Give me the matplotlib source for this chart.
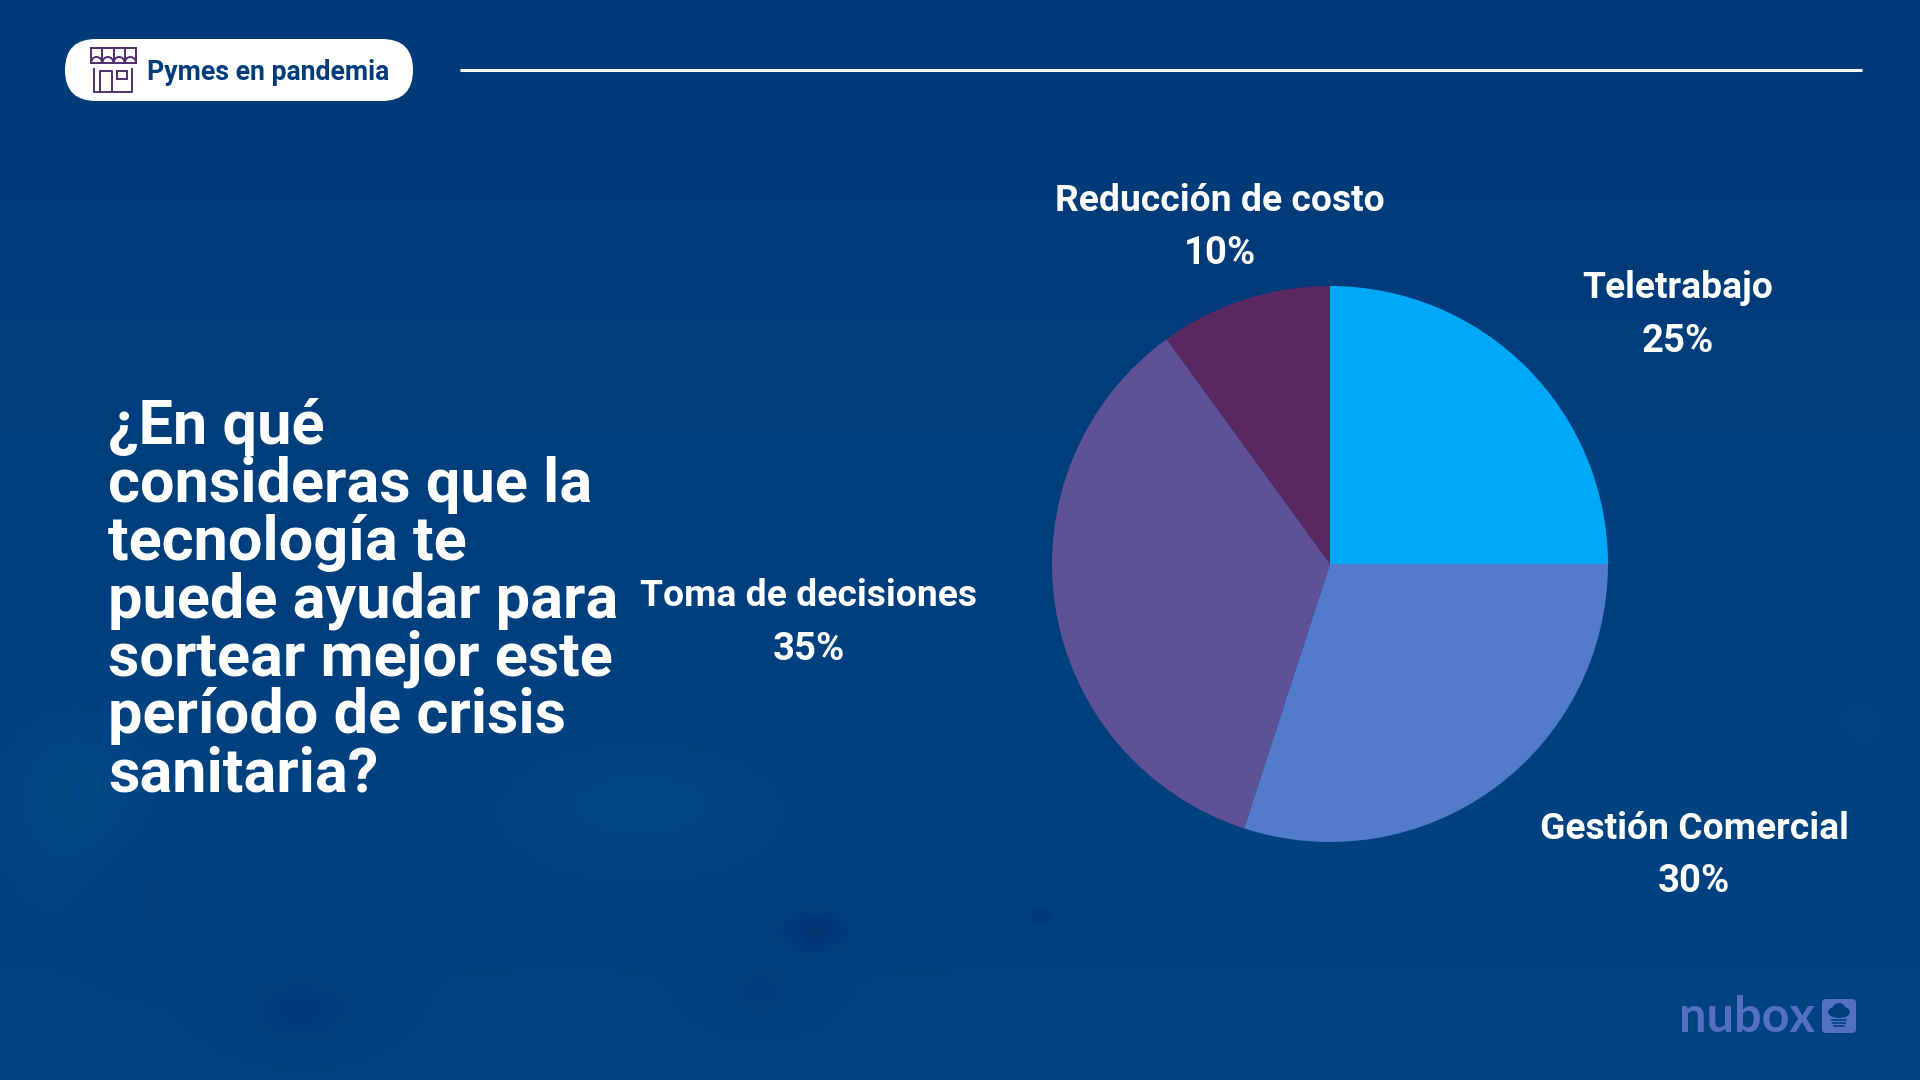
#!/usr/bin/env python3
import matplotlib
matplotlib.use("Agg")
import matplotlib.pyplot as plt
import numpy as np
from matplotlib.patches import Arc, Ellipse, FancyBboxPatch, Rectangle

categories = ["Teletrabajo", "Gestión Comercial", "Toma de decisiones", "Reducción de costo"]
values = [25, 30, 35, 10]
colors = ["#00A8F8", "#527BCB", "#5F5196", "#5A2860"]

title = "¿En qué\nconsideras que la\ntecnología te\npuede ayudar para\nsortear mejor este\nperíodo de crisis\nsanitaria?"
badge = "Pymes en pandemia"
brand = "nubox"

plt.rcParams["font.family"] = ["Roboto", "DejaVu Sans"]

W, H = 1920, 1080
fig = plt.figure(figsize=(W / 100, H / 100), dpi=100)

# overlay in pixel coords, y going down like the reference
bg = fig.add_axes([0, 0, 1, 1])
bg.set_xlim(0, W)
bg.set_ylim(H, 0)
bg.axis("off")

# background: vertical gradient plus soft blobs for the faded photo
yy, xx = np.mgrid[0:H:2, 0:W:2]
shade = yy / H
img = np.stack([0 * shade, 58 + 10 * shade, 120 + 11 * shade], axis=-1)
for cx, cy, sx, sy, amp in [
    (75, 790, 70, 80, 7),
    (640, 800, 130, 60, 5),
    (300, 1010, 70, 40, -9),
    (815, 930, 40, 22, -13),
    (760, 990, 50, 35, -7),
    (1040, 915, 15, 10, -10),
    (150, 900, 50, 60, -5),
    (1860, 720, 25, 25, 4),
]:
    blob = amp * np.exp(-((xx - cx) / sx) ** 2 - ((yy - cy) / sy) ** 2)
    img[..., 1] += blob
    img[..., 2] += blob
bg.imshow(np.clip(img, 0, 255) / 255, extent=[0, W, H, 0], aspect="auto", zorder=0)

# header badge and rule
bg.add_patch(FancyBboxPatch((65, 39), 348, 62, boxstyle="round,pad=0,rounding_size=31",
                            fc="white", ec="none", zorder=2))
bg.plot([460, 1862], [70, 70], color="white", lw=2.2, zorder=2, solid_capstyle="butt")

# shop icon
ic = "#4F2D6E"
bg.add_patch(Rectangle((91, 48), 45, 15, fc="none", ec=ic, lw=1.4, zorder=3))
for x in (102.2, 113.5, 124.7):
    bg.plot([x, x], [48, 63], color=ic, lw=1.4, zorder=3)
for x in (96.6, 107.9, 119.1, 130.4):
    bg.add_patch(Arc((x, 63), 11.2, 12, theta1=0, theta2=180, angle=180, ec=ic, lw=1.4, zorder=3))
bg.plot([94, 94, 132, 132], [69, 92, 92, 69], color=ic, lw=1.4, zorder=3)
bg.plot([100, 100, 112, 112], [92, 71, 71, 92], color=ic, lw=1.4, zorder=3)
bg.add_patch(Rectangle((117, 71), 10, 8, fc="none", ec=ic, lw=1.4, zorder=3))

bg.text(147, 73, badge, color="#003B7A", fontsize=19.2, fontweight="bold", va="center", ha="left", zorder=3)

# question, one text per line to hold the tight leading
for i, line in enumerate(title.split("\n")):
    bg.text(108, 444.5 + i * 57.75, line, color="white", fontsize=44.1, fontweight="bold",
            va="baseline", ha="left", zorder=3)

# slice labels
label_pos = {
    "Teletrabajo": (1678, 288.5),
    "Gestión Comercial": (1694, 829),
    "Toma de decisiones": (809, 596),
    "Reducción de costo": (1220, 201),
}
for cat, val in zip(categories, values):
    x, y = label_pos[cat]
    bg.text(x, y, cat, color="white", fontsize=26.8, fontweight="bold", ha="center", va="center", zorder=3)
    bg.text(x, y + 53, f"{val}%", color="white", fontsize=27.5, fontweight="bold", ha="center", va="center", zorder=3)

# logo
logo = "#5570C0"
bg.text(1679, 1032, brand, color=logo, fontsize=35, fontweight="bold", ha="left", va="baseline",
        family=["Lato", "DejaVu Sans"], zorder=3)
bg.add_patch(FancyBboxPatch((1822, 999), 34, 34, boxstyle="round,pad=0,rounding_size=4",
                            fc=logo, ec="none", zorder=3))
bg.add_patch(Ellipse((1839, 1012), 22, 12, fc="#003F7E", ec="none", zorder=4))
bg.add_patch(Ellipse((1839, 1008), 12, 10, fc="#003F7E", ec="none", zorder=4))
for y, half in [(1020, 7), (1023, 6), (1026, 5)]:
    bg.plot([1839 - half, 1839 + half], [y, y], color="#003F7E", lw=1.2, zorder=4)

# pie: centre (1330, 564), radius 278 px
R = 278
ax = fig.add_axes([(1330 - R) / W, 1 - (564 + R) / H, 2 * R / W, 2 * R / H])
ax.pie(values, colors=colors, startangle=90, counterclock=False, radius=1,
       wedgeprops={"linewidth": 0})
ax.set_xlim(-1, 1)
ax.set_ylim(-1, 1)
ax.patch.set_alpha(0)

fig.savefig("out.png", dpi=100)
